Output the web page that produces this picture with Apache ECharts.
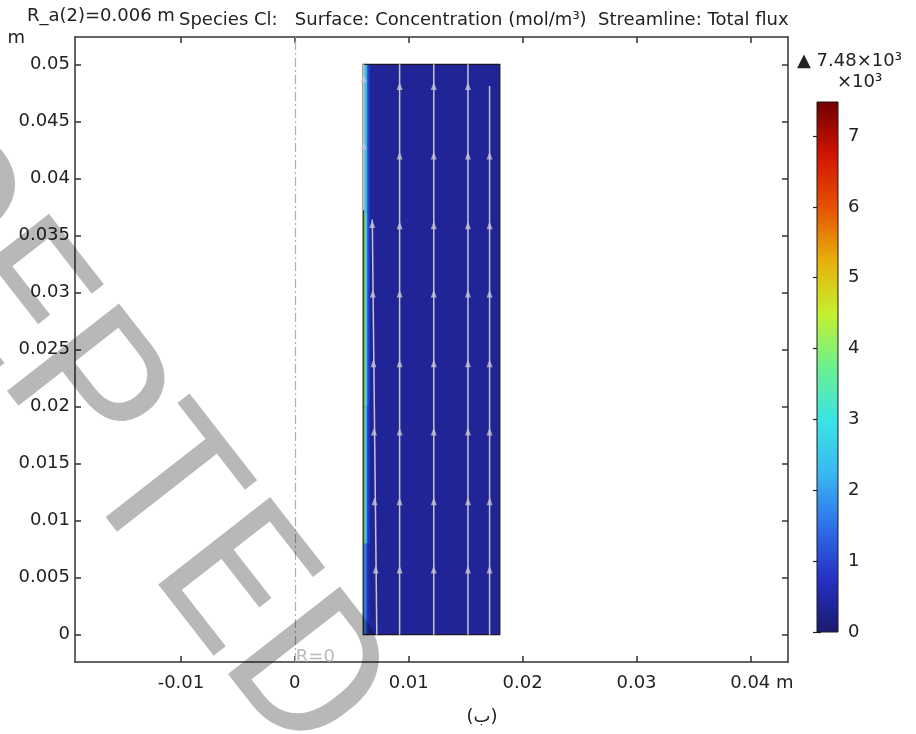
<!DOCTYPE html>
<html>
<head>
<meta charset="utf-8">
<script src="https://cdn.jsdelivr.net/npm/echarts@6/dist/echarts.min.js"></script>
<style>
  html, body { margin: 0; padding: 0; background: #fff; }
  #main { width: 916px; height: 734px; }
</style>
</head>
<body>
<div id="main"></div>
<script>
// axis ranges and ticks (m)
var xRange = [-0.0193, 0.0433];
var yRange = [-0.0024, 0.0524];
var xTicks = [-0.01, 0, 0.01, 0.02, 0.03, 0.04];
var yTicks = [0, 0.005, 0.01, 0.015, 0.02, 0.025, 0.03, 0.035, 0.04, 0.045, 0.05];

// colour bar, x10^3 mol/m^3
var cMax = 7.48;
var cTicks = [0, 1, 2, 3, 4, 5, 6, 7];
var rainbow = ['#1b1a6e', '#2630c4', '#2f70ea', '#38b8f2', '#3ae4e4', '#6cf090',
               '#c4f02e', '#e8b00c', '#e65200', '#d01400', '#700000'];

// domain: R from 0.006 to 0.018, Z from 0 to 0.05
var domainR = [0.006, 0.018];
var domainZ = [0, 0.05];
var bulkConc = 0.35;

// thin layer along the inner wall
var layerR = [0.006, 0.00612, 0.00624, 0.00636, 0.00648, 0.0066];
var layerZ = [0, 0.008, 0.02, 0.037, 0.05];
var layerConc = [
    [2.4, 1.8, 1.2, 0.8, 0.5],
    [4.4, 3.2, 2.1, 1.2, 0.7],
    [4.8, 3.6, 2.5, 1.5, 0.8],
    [3.5, 3.0, 2.2, 1.4, 0.8]
];

// streamlines (total flux)
var streamR = [0.0092, 0.0122, 0.0152, 0.0171];
var streamTop = [0.05, 0.05, 0.05, 0.0481];
var arrowZ = [0.0481, 0.042, 0.0359, 0.0299, 0.0238, 0.0178, 0.0117, 0.0057];
var wallLine = [[0.00605, 0.05], [0.00605, 0.0372]];
var wallArrows = [[0.00605, 0.0488], [0.00605, 0.0429]];
var nearWallLine = [[0.0068, 0.0364], [0.0072, 0]];
var nearWallArrows = [[0.0068, 0.036], [0.00685, 0.0299], [0.0069, 0.0238],
                      [0.00695, 0.0178], [0.007, 0.0117], [0.0071, 0.0057]];

var font = 'DejaVu Sans';
var ink = '#222';
var frame = '#333';
var flowColor = '#c4c4cc';

var cells = [[domainR[0], domainR[1], domainZ[0], domainZ[1], bulkConc]];
for (var b = 0; b < layerConc.length; b++) {
    for (var c = 0; c < layerConc[b].length; c++) {
        cells.push([layerR[c], layerR[c + 1], layerZ[b], layerZ[b + 1], layerConc[b][c]]);
    }
}

var arrows = [];
streamR.forEach(function (r, i) {
    arrowZ.forEach(function (z) {
        if (z < streamTop[i] - 0.0001) arrows.push([r, z]);
    });
});
arrows = arrows.concat(wallArrows, nearWallArrows);

function fmt(v) {
    return String(+v.toFixed(4));
}

function rectOf(api) {
    var a = api.coord([api.value(0), api.value(3)]);
    var b = api.coord([api.value(1), api.value(2)]);
    return { x: a[0], y: a[1], width: b[0] - a[0], height: b[1] - a[1] };
}

var streamSeries = streamR.map(function (r, i) {
    return {
        type: 'line',
        data: [[r, domainZ[0]], [r, streamTop[i]]],
        showSymbol: false,
        symbol: 'none',
        silent: true,
        lineStyle: { color: flowColor, width: 1.5 },
        z: 4
    };
});
streamSeries.push({
    type: 'line', data: wallLine, symbol: 'none', silent: true,
    lineStyle: { color: flowColor, width: 1.5 }, z: 4
});
streamSeries.push({
    type: 'line', data: nearWallLine, symbol: 'none', silent: true,
    lineStyle: { color: flowColor, width: 1.5 }, z: 4,
    markLine: {
        silent: true,
        symbol: 'none',
        label: { show: false },
        lineStyle: { color: '#b0b0b0', width: 1.2, type: [9, 3, 2, 3] },
        data: [{ xAxis: 0 }]
    }
});

var option = {
    backgroundColor: '#fff',
    animation: false,
    grid: [
        { left: 75, top: 37, width: 713, height: 625, outerBoundsMode: 'none' },
        { left: 817, top: 102, width: 21, height: 530, outerBoundsMode: 'none' }
    ],
    visualMap: {
        type: 'continuous',
        show: false,
        seriesIndex: 0,
        dimension: 4,
        min: 0,
        max: cMax,
        inRange: { color: rainbow }
    },
    xAxis: [
        {
            type: 'value', gridIndex: 0, position: 'bottom',
            min: xRange[0], max: xRange[1],
            axisLine: { show: true, onZero: false, lineStyle: { color: frame, width: 1.5 } },
            axisTick: { show: true, inside: true, length: 6, customValues: xTicks,
                        lineStyle: { color: frame, width: 1.5 } },
            axisLabel: {
                customValues: xTicks, margin: 12,
                color: ink, fontSize: 18, fontFamily: font,
                formatter: function (v) {
                    if (Math.abs(v - xTicks[xTicks.length - 1]) < 1e-9) {
                        return '{pad| }' + fmt(v) + '{unit| m}';
                    }
                    return fmt(v);
                },
                rich: {
                    pad: { width: 23, fontSize: 18, fontFamily: font },
                    unit: { color: ink, fontSize: 18, fontFamily: font }
                }
            },
            splitLine: { show: false }
        },
        {
            type: 'value', gridIndex: 0, position: 'top',
            min: xRange[0], max: xRange[1],
            axisLine: { show: true, onZero: false, lineStyle: { color: frame, width: 1.5 } },
            axisTick: { show: true, inside: true, length: 6, customValues: xTicks,
                        lineStyle: { color: frame, width: 1.5 } },
            axisLabel: { show: false },
            splitLine: { show: false }
        },
        {
            type: 'value', gridIndex: 1, min: 0, max: 1, show: false
        }
    ],
    yAxis: [
        {
            type: 'value', gridIndex: 0, position: 'left',
            min: yRange[0], max: yRange[1],
            name: 'm', nameLocation: 'end', nameGap: -1,
            nameTextStyle: { color: ink, fontSize: 18, fontFamily: font,
                             align: 'right', verticalAlign: 'middle', padding: [0, 50, 0, 0] },
            axisLine: { show: true, onZero: false, lineStyle: { color: frame, width: 1.5 } },
            axisTick: { show: true, inside: true, length: 6, customValues: yTicks,
                        lineStyle: { color: frame, width: 1.5 } },
            axisLabel: { customValues: yTicks, margin: 5, color: ink, fontSize: 18,
                         fontFamily: font, formatter: fmt },
            splitLine: { show: false }
        },
        {
            type: 'value', gridIndex: 0, position: 'right',
            min: yRange[0], max: yRange[1],
            axisLine: { show: true, onZero: false, lineStyle: { color: frame, width: 1.5 } },
            axisTick: { show: true, inside: true, length: 6, customValues: yTicks,
                        lineStyle: { color: frame, width: 1.5 } },
            axisLabel: { show: false },
            splitLine: { show: false }
        },
        {
            type: 'value', gridIndex: 1, position: 'right',
            min: 0, max: cMax,
            axisLine: { show: false },
            axisTick: { show: true, inside: true, length: 4, customValues: cTicks,
                        lineStyle: { color: ink, width: 1.2 } },
            axisLabel: { customValues: cTicks, margin: 10, color: ink, fontSize: 18,
                         fontFamily: font },
            splitLine: { show: false }
        },
        {
            type: 'value', gridIndex: 1, position: 'left',
            min: 0, max: cMax,
            axisLine: { show: false },
            axisTick: { show: true, inside: true, length: 4, customValues: cTicks,
                        lineStyle: { color: ink, width: 1.2 } },
            axisLabel: { show: false },
            splitLine: { show: false }
        }
    ],
    series: [
        {
            type: 'custom',
            name: 'concentration',
            coordinateSystem: 'cartesian2d',
            xAxisIndex: 0, yAxisIndex: 0,
            dimensions: ['r0', 'r1', 'z0', 'z1', 'c'],
            encode: { x: [0, 1], y: [2, 3] },
            silent: true,
            z: 2,
            renderItem: function (params, api) {
                return { type: 'rect', shape: rectOf(api), style: { fill: api.visual('color') } };
            },
            data: cells
        },
        {
            type: 'custom',
            name: 'boundary',
            coordinateSystem: 'cartesian2d',
            xAxisIndex: 0, yAxisIndex: 0,
            encode: { x: [0, 1], y: [2, 3] },
            silent: true,
            z: 3,
            renderItem: function (params, api) {
                return { type: 'rect', shape: rectOf(api),
                         style: { fill: 'none', stroke: '#1a1a1a', lineWidth: 1.2 } };
            },
            data: [[domainR[0], domainR[1], domainZ[0], domainZ[1]]]
        },
        {
            type: 'custom',
            name: 'colorbar',
            coordinateSystem: 'cartesian2d',
            xAxisIndex: 2, yAxisIndex: 2,
            encode: { x: [0, 1], y: [2, 3] },
            silent: true,
            z: 2,
            renderItem: function (params, api) {
                return {
                    type: 'rect', shape: rectOf(api),
                    style: {
                        fill: {
                            type: 'linear', x: 0, y: 1, x2: 0, y2: 0,
                            colorStops: rainbow.map(function (col, i) {
                                return { offset: i / (rainbow.length - 1), color: col };
                            })
                        },
                        stroke: '#1a1a1a', lineWidth: 1
                    }
                };
            },
            data: [[0, 1, 0, cMax]]
        },
        {
            type: 'scatter',
            name: 'arrows',
            data: arrows,
            symbol: 'triangle',
            symbolSize: [6, 8],
            silent: true,
            itemStyle: { color: flowColor },
            z: 5
        },
        {
            type: 'scatter',
            name: 'axis label',
            data: [[0, yRange[0]]],
            symbolSize: 0,
            silent: true,
            label: { show: true, position: 'right', distance: 1, offset: [0, -5],
                     formatter: 'R=0', color: '#aaaaaa', fontSize: 18, fontFamily: font },
            z: 5
        }
    ].concat(streamSeries),
    graphic: [
        { type: 'text', x: 27, y: 16, silent: true,
          style: { text: 'R_a(2)=0.006 m', fill: ink, fontSize: 18, fontFamily: font, verticalAlign: 'middle' } },
        { type: 'text', x: 179, y: 20, silent: true,
          style: { text: 'Species Cl:   Surface: Concentration (mol/m³)  Streamline: Total flux',
                   fill: ink, fontSize: 18, fontFamily: font, verticalAlign: 'middle' } },
        { type: 'text', x: 797, y: 61, silent: true,
          style: { text: '▲ 7.48×10³', fill: ink, fontSize: 18, fontFamily: font, verticalAlign: 'middle' } },
        { type: 'text', x: 837, y: 82, silent: true,
          style: { text: '×10³', fill: ink, fontSize: 18, fontFamily: font, verticalAlign: 'middle' } },
        { type: 'text', x: 482, y: 717, silent: true,
          style: { text: '(ب)', fill: ink, fontSize: 18, fontFamily: font, align: 'center', verticalAlign: 'middle' } },
        { type: 'text', x: -114, y: 155, rotation: -52 * Math.PI / 180, silent: true, z: 100,
          style: { text: 'CEPTED', fill: 'rgba(0,0,0,0.28)', fontSize: 200, fontFamily: 'Roboto',
                   fontWeight: 400, align: 'left', verticalAlign: 'middle' } }
    ]
};

var myChart = echarts.init(document.getElementById('main'));
myChart.setOption(option);
</script>
</body>
</html>
